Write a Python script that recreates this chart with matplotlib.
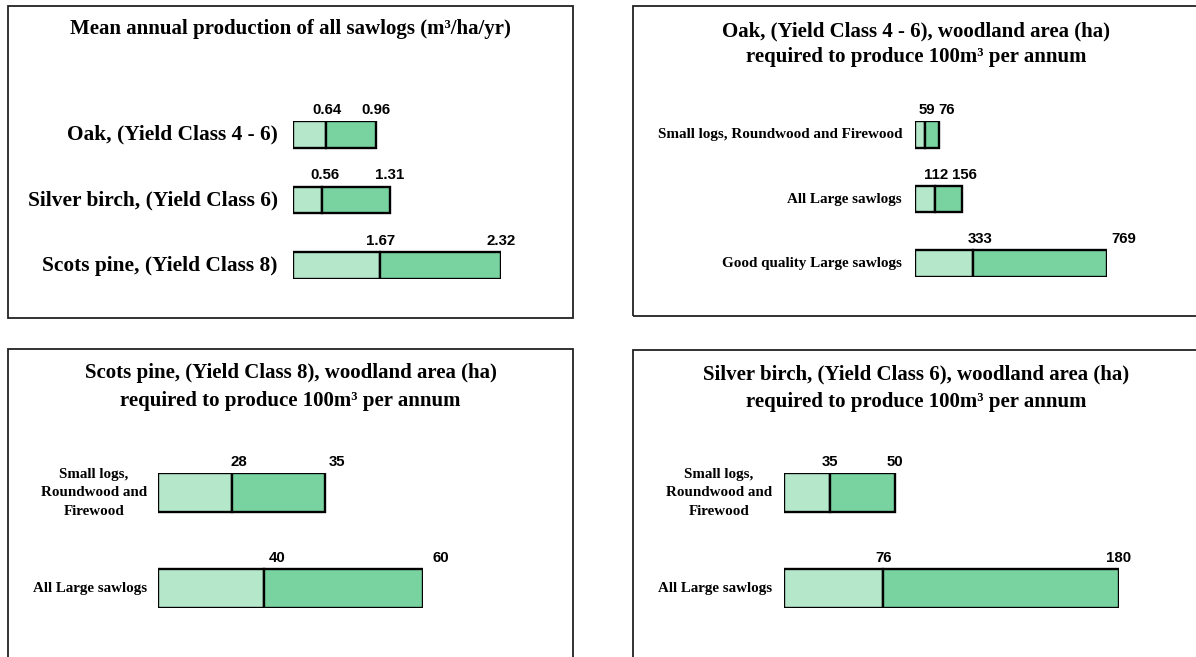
import matplotlib.pyplot as plt
from matplotlib.patches import Rectangle

W, H, DPI = 1196, 657, 100

# Mean annual production of all sawlogs (m3/ha/yr)
prod_cats = ["Oak, (Yield Class 4 - 6)", "Silver birch, (Yield Class 6)", "Scots pine, (Yield Class 8)"]
prod_low = [0.64, 0.56, 1.67]
prod_high = [0.96, 1.31, 2.32]

# Oak, woodland area (ha) for 100 m3 per annum
oak_cats = ["Small logs, Roundwood and Firewood", "All Large sawlogs", "Good quality Large sawlogs"]
oak_low = [59, 112, 333]
oak_high = [76, 156, 769]

# Scots pine
pine_cats = ["Small logs,\nRoundwood and\nFirewood", "All Large sawlogs"]
pine_low = [28, 40]
pine_high = [35, 60]

# Silver birch
birch_cats = ["Small logs,\nRoundwood and\nFirewood", "All Large sawlogs"]
birch_low = [35, 76]
birch_high = [50, 180]

LIGHT = "#b5e8cb"
DARK = "#79d3a0"
SERIF = "Liberation Serif"
SANS = "Liberation Sans"


def fig_rect(x0, y0, x1, y1):
    # pixel box (top-left origin) -> figure fraction rect
    return [x0 / W, 1 - y1 / H, (x1 - x0) / W, (y1 - y0) / H]


def panel(fig, box, titles, title_y, cats, low, high, bar_box, cat_size, gap,
          nudge_low, nudge_high, hb=0.41):
    bx0, by0, bx1, by1 = box
    fig.add_artist(Rectangle((bx0 / W, 1 - by1 / H), (bx1 - bx0) / W, (by1 - by0) / H,
                             transform=fig.transFigure, fill=False, ec="#222222", lw=1.3))
    cx = (bx0 + bx1) / 2 / W
    for t, ty in zip(titles, title_y):
        fig.text(cx, 1 - ty / H, t, ha="center", va="center", family=SERIF,
                 fontweight="bold", fontsize=15)

    ax = fig.add_axes(fig_rect(*bar_box))
    n = len(cats)
    totals = [a + b for a, b in zip(low, high)]
    ys = list(range(n))
    ax.barh(ys, low, height=hb, color=LIGHT, edgecolor="black", lw=1.7)
    ax.barh(ys, high, left=low, height=hb, color=DARK, edgecolor="black", lw=1.7)
    ax.set_xlim(0, max(totals))
    ax.set_ylim(n - 1 + hb / 2, -hb / 2)
    ax.axis("off")
    for i in range(n):
        ax.annotate(cats[i], (0, i), xytext=(-gap * 0.72, 0), textcoords="offset points",
                    ha="right", va="center", multialignment="center", family=SERIF,
                    fontweight="bold", fontsize=cat_size, linespacing=1.55,
                    annotation_clip=False)
        ax.annotate(f"{low[i]:g}", (low[i], i - hb / 2), xytext=(nudge_low[i] * 0.72, 3),
                    textcoords="offset points", ha="center", va="bottom", family=SANS,
                    fontweight="bold", fontsize=10.8, annotation_clip=False)
        ax.annotate(f"{high[i]:g}", (totals[i], i - hb / 2), xytext=(nudge_high[i] * 0.72, 3),
                    textcoords="offset points", ha="center", va="bottom", family=SANS,
                    fontweight="bold", fontsize=10.8, annotation_clip=False)
    return ax


fig = plt.figure(figsize=(W / DPI, H / DPI), dpi=DPI)

panel(fig, (8, 6, 573, 318), ["Mean annual production of all sawlogs (m³/ha/yr)"], [29],
      prod_cats, prod_low, prod_high, (293, 121, 501, 279), 15.4, 15,
      [1, 3, 1], [0, -1, 0])

panel(fig, (633, 6, 1200, 316),
      ["Oak, (Yield Class 4 - 6), woodland area (ha)", "required to produce 100m³ per annum"],
      [31, 57], oak_cats, oak_low, oak_high, (915, 121, 1107, 277), 10.9, 13,
      [1.5, 1.5, 7], [8, 3, 17])

panel(fig, (8, 349, 573, 700),
      ["Scots pine, (Yield Class 8), woodland area (ha)", "required to produce 100m³ per annum"],
      [373, 401], pine_cats, pine_low, pine_high, (158, 473, 423, 608), 10.8, 11,
      [7, 13], [12, 18])

panel(fig, (633, 350, 1200, 700),
      ["Silver birch, (Yield Class 6), woodland area (ha)", "required to produce 100m³ per annum"],
      [374, 402], birch_cats, birch_low, birch_high, (784, 473, 1119, 608), 10.8, 12,
      [0, 0], [0, 0])

fig.savefig("out.png", dpi=DPI)
